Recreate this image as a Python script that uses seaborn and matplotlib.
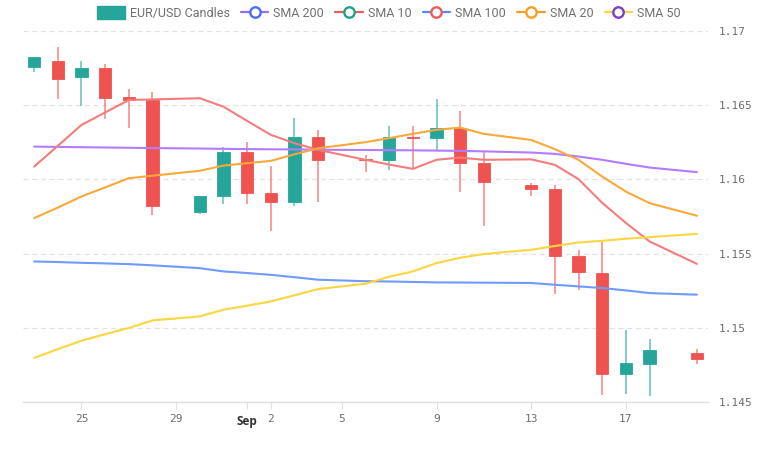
import matplotlib
matplotlib.use("Agg")
import matplotlib.pyplot as plt
import matplotlib.dates as mdates
from matplotlib.lines import Line2D
from matplotlib.patches import Patch
import pandas as pd
import seaborn as sns

sns.set_theme(style="white")
plt.rcParams['font.family'] = ['DejaVu Sans Mono']

dates = ["2025-08-23", "2025-08-24", "2025-08-25", "2025-08-26", "2025-08-27", "2025-08-28",
         "2025-08-30", "2025-08-31", "2025-09-01", "2025-09-02", "2025-09-03", "2025-09-04",
         "2025-09-06", "2025-09-07", "2025-09-08", "2025-09-09", "2025-09-10", "2025-09-11",
         "2025-09-13", "2025-09-14", "2025-09-15", "2025-09-16", "2025-09-17", "2025-09-18",
         "2025-09-20"]
opens = [1.16760, 1.16798, 1.16688, 1.16749, 1.16558, 1.16535, 1.15781, 1.15885, 1.16185,
         1.15907, 1.15851, 1.16284, 1.16135, 1.16132, 1.16286, 1.16282, 1.16345, 1.16113,
         1.15963, 1.15936, 1.15487, 1.15366, 1.14686, 1.14756, 1.14827]
highs = [1.16827, 1.16894, 1.16798, 1.16776, 1.16608, 1.16591, 1.15891, 1.16221, 1.16251,
         1.16093, 1.16416, 1.16334, 1.16165, 1.16362, 1.16362, 1.16542, 1.16461, 1.16183,
         1.15979, 1.15963, 1.15521, 1.15578, 1.14987, 1.14924, 1.14857]
lows = [1.16726, 1.16542, 1.16495, 1.16406, 1.16349, 1.15761, 1.15766, 1.15835, 1.15835,
        1.15654, 1.15824, 1.15847, 1.16053, 1.16064, 1.16069, 1.16194, 1.15914, 1.15683,
        1.15885, 1.15228, 1.15256, 1.14545, 1.14556, 1.14538, 1.14756]
closes = [1.16827, 1.16679, 1.16749, 1.16551, 1.16535, 1.15824, 1.15891, 1.16185, 1.15907,
          1.15851, 1.16284, 1.16132, 1.16130, 1.16284, 1.16280, 1.16345, 1.16109, 1.15983,
          1.15936, 1.15481, 1.15373, 1.14686, 1.14760, 1.14848, 1.14790]

sma10 = [1.16086, 1.16226, 1.16367, 1.16451, 1.16535, 1.16539, 1.16547, 1.16490, 1.16394,
         1.16300, 1.16244, 1.16199, 1.16132, 1.16100, 1.16071, 1.16132, 1.16147, 1.16132,
         1.16135, 1.16098, 1.16002, 1.15842, 1.15707, 1.15582, 1.15431]
sma20 = [1.15739, 1.15810, 1.15885, 1.15946, 1.16008, 1.16025, 1.16058, 1.16093, 1.16109,
         1.16125, 1.16169, 1.16210, 1.16251, 1.16278, 1.16307, 1.16334, 1.16349, 1.16307,
         1.16266, 1.16204, 1.16132, 1.16019, 1.15918, 1.15840, 1.15755]
sma50 = [1.14797, 1.14856, 1.14913, 1.14957, 1.14999, 1.15050, 1.15077, 1.15122, 1.15149,
         1.15178, 1.15219, 1.15261, 1.15297, 1.15344, 1.15380, 1.15436, 1.15472, 1.15497,
         1.15526, 1.15551, 1.15575, 1.15586, 1.15600, 1.15611, 1.15633]
sma100 = [1.15447, 1.15443, 1.15438, 1.15434, 1.15429, 1.15421, 1.15402, 1.15380, 1.15369,
          1.15357, 1.15341, 1.15324, 1.15314, 1.15312, 1.15309, 1.15306, 1.15305, 1.15304,
          1.15302, 1.15290, 1.15279, 1.15268, 1.15252, 1.15234, 1.15223]
sma200 = [1.16221, 1.16219, 1.16217, 1.16215, 1.16213, 1.16211, 1.16208, 1.16206, 1.16204,
          1.16203, 1.16202, 1.16200, 1.16198, 1.16197, 1.16196, 1.16194, 1.16192, 1.16189,
          1.16181, 1.16172, 1.16154, 1.16132, 1.16105, 1.16080, 1.16049]

tick_dates = ["2025-08-25", "2025-08-29", "2025-09-01", "2025-09-02", "2025-09-05",
              "2025-09-09", "2025-09-13", "2025-09-17"]
tick_labels = ["25", "29", "Sep", "2", "5", "9", "13", "17"]
y_ticks = [1.145, 1.15, 1.155, 1.16, 1.165, 1.17]

UP = "#26a69a"
DOWN = "#ef5350"

df = pd.DataFrame({"date": pd.to_datetime(dates), "open": opens, "high": highs,
                   "low": lows, "close": closes, "SMA 200": sma200, "SMA 10": sma10,
                   "SMA 100": sma100, "SMA 20": sma20, "SMA 50": sma50})

fig = plt.figure(figsize=(7.7, 4.63), dpi=100)
ax = fig.add_axes([23 / 770, 1 - 402 / 463, 685 / 770, 371 / 463])

# candles
x = mdates.date2num(df["date"])
up = df["close"] >= df["open"]
cols = [UP if u else DOWN for u in up]
ax.vlines(x, df["low"], df["high"], colors=cols, linewidth=1.3, alpha=0.6, zorder=2)
ax.bar(x, (df["close"] - df["open"]).abs().clip(lower=0.00004),
       bottom=df[["open", "close"]].min(axis=1), width=0.53, color=cols,
       edgecolor=cols, linewidth=0.6, zorder=3)

# moving averages
line_colors = {"SMA 200": "#b57bff", "SMA 10": "#f47c7c", "SMA 100": "#6f9bff",
               "SMA 20": "#f9a83a", "SMA 50": "#fcd53f"}
for name, c in line_colors.items():
    sns.lineplot(data=df, x="date", y=name, color=c, linewidth=1.5, ax=ax, zorder=4)

ax.set_xlim(x[0] - 0.47, x[-1] + 0.47)
ax.set_ylim(1.145, 1.17)
ax.set_xlabel("")
ax.set_ylabel("")

ax.yaxis.tick_right()
ax.set_yticks(y_ticks)
ax.set_yticklabels([f"{v:g}" for v in y_ticks])
ax.tick_params(axis="y", length=0, pad=8, labelsize=8, labelcolor="#6e6e6e")
ax.grid(axis="y", color="#e3e3e3", linestyle=(0, (4, 3)), linewidth=0.9)
ax.set_axisbelow(True)

ax.set_xticks(mdates.date2num(pd.to_datetime(tick_dates)))
ax.set_xticklabels(tick_labels)
ax.tick_params(axis="x", length=5, color="#e0e0e0", width=0.8, pad=4, bottom=True,
               labelsize=8, labelcolor="#6e6e6e")
for lab in ax.get_xticklabels():
    if lab.get_text() == "Sep":
        lab.set_fontweight("bold")
        lab.set_color("#333333")
        lab.set_fontsize(8.5)
        lab.set_family("Open Sans")

for s in ["top", "left", "right"]:
    ax.spines[s].set_visible(False)
ax.spines["bottom"].set_color("#e0e0e0")
ax.spines["bottom"].set_linewidth(1)

# legend (marker colours differ from line colours, as in the original)
handles = [Patch(facecolor=UP, edgecolor=UP),
           Line2D([], [], color="#9b6bff", lw=1.6, marker="o", ms=7.5, mfc="white", mec="#4f6bff", mew=1.7),
           Line2D([], [], color="#f05a5a", lw=1.6, marker="o", ms=7.5, mfc="white", mec="#21a08a", mew=1.7),
           Line2D([], [], color="#4f8cff", lw=1.6, marker="o", ms=7.5, mfc="white", mec="#f05a5a", mew=1.7),
           Line2D([], [], color="#f7a123", lw=1.6, marker="o", ms=7.5, mfc="white", mec="#f7a123", mew=1.7),
           Line2D([], [], color="#fcd53f", lw=1.6, marker="o", ms=7.5, mfc="white", mec="#7b3fc4", mew=1.7)]
labels = ["EUR/USD Candles", "SMA 200", "SMA 10", "SMA 100", "SMA 20", "SMA 50"]
leg = fig.legend(handles, labels, loc="center", bbox_to_anchor=(0.505, 1 - 13 / 463), ncol=6,
                 frameon=False, fontsize=9, handlelength=2.2, handleheight=1.2,
                 handletextpad=0.4, columnspacing=0.9, labelcolor="#707070",
                 prop={"family": "Roboto", "size": 9})

fig.savefig("out.png", dpi=100)
